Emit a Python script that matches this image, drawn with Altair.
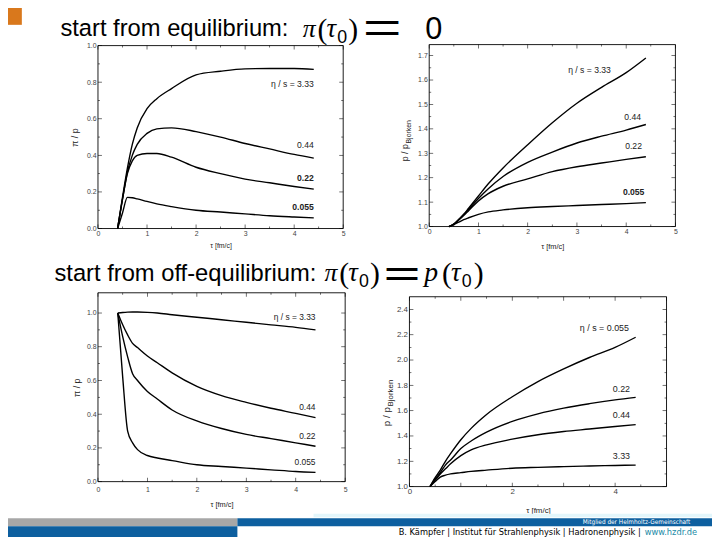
import altair as alt
import pandas as pd

SANS = "Liberation Sans"
SERIF = "Liberation Serif"
CJK = "Noto Sans CJK JP"
NARROW = "Liberation Sans Narrow, DejaVu Sans Condensed, Liberation Sans"
W, H = 720, 540

TAU = [0.4, 0.5, 0.6, 0.7, 0.8, 1.0, 1.2, 1.5, 2.0, 2.5, 3.0, 3.5, 4.0, 4.4]
ETA = ["3.33", "0.44", "0.22", "0.055"]

# top-left: pi/p, start from equilibrium
EQ_PI_333 = [0, 0.17, 0.33, 0.46, 0.55, 0.655, 0.71, 0.765, 0.84, 0.86, 0.873, 0.875, 0.875, 0.87]
EQ_PI_044 = [0, 0.16, 0.31, 0.40, 0.46, 0.52, 0.545, 0.55, 0.53, 0.50, 0.465, 0.435, 0.405, 0.385]
EQ_PI_022 = [0, 0.16, 0.30, 0.37, 0.40, 0.41, 0.41, 0.39, 0.335, 0.30, 0.27, 0.25, 0.23, 0.215]
EQ_PI_0055 = [0, 0.085, 0.17, 0.168, 0.162, 0.148, 0.135, 0.12, 0.10, 0.09, 0.08, 0.07, 0.063, 0.058]

# top-right: p/p_Bjorken, start from equilibrium
EQ_P_333 = [1.0, 1.01, 1.03, 1.05, 1.075, 1.125, 1.175, 1.24, 1.335, 1.425, 1.505, 1.57, 1.63, 1.69]
EQ_P_044 = [1.0, 1.01, 1.028, 1.048, 1.07, 1.115, 1.155, 1.205, 1.263, 1.305, 1.342, 1.37, 1.395, 1.418]
EQ_P_022 = [1.0, 1.01, 1.027, 1.045, 1.065, 1.105, 1.135, 1.165, 1.195, 1.225, 1.245, 1.26, 1.275, 1.286]
EQ_P_0055 = [1.0, 1.008, 1.018, 1.028, 1.036, 1.05, 1.06, 1.068, 1.077, 1.082, 1.086, 1.09, 1.094, 1.098]

# bottom-left: pi/p, start from off-equilibrium
OFF_PI_333 = [1.0, 1.003, 1.005, 1.006, 1.006, 1.004, 1.0, 0.99, 0.975, 0.96, 0.945, 0.93, 0.915, 0.9]
OFF_PI_044 = [1.0, 0.93, 0.87, 0.82, 0.795, 0.745, 0.705, 0.645, 0.565, 0.51, 0.47, 0.435, 0.405, 0.38]
OFF_PI_022 = [1.0, 0.86, 0.74, 0.64, 0.60, 0.535, 0.49, 0.425, 0.36, 0.315, 0.28, 0.255, 0.23, 0.21]
OFF_PI_0055 = [1.0, 0.62, 0.30, 0.23, 0.19, 0.155, 0.14, 0.125, 0.10, 0.09, 0.08, 0.07, 0.06, 0.055]

# bottom-right: p/p_Bjorken, start from off-equilibrium
OFF_P_0055 = [1.0, 1.07, 1.13, 1.20, 1.26, 1.37, 1.46, 1.57, 1.71, 1.83, 1.93, 2.02, 2.10, 2.18]
OFF_P_022 = [1.0, 1.06, 1.11, 1.17, 1.21, 1.30, 1.36, 1.43, 1.515, 1.575, 1.62, 1.655, 1.685, 1.705]
OFF_P_044 = [1.0, 1.05, 1.10, 1.14, 1.18, 1.245, 1.29, 1.33, 1.375, 1.41, 1.435, 1.455, 1.475, 1.49]
OFF_P_333 = [1.0, 1.04, 1.075, 1.09, 1.10, 1.11, 1.12, 1.13, 1.145, 1.152, 1.158, 1.163, 1.167, 1.17]

# curve labels: text, tau, value, bold
LAB1_TXT = ["η / s = 3.33", "0.44", "0.22", "0.055"]
LAB1_TAU = [4.4, 4.4, 4.4, 4.4]
LAB1_VAL = [0.79, 0.458, 0.277, 0.119]
LAB1_BOLD = [False, False, True, True]

LAB2_TXT = ["η / s = 3.33", "0.44", "0.22", "0.055"]
LAB2_TAU = [3.69, 4.3, 4.32, 4.37]
LAB2_VAL = [1.642, 1.449, 1.33, 1.142]
LAB2_BOLD = [False, False, False, True]

LAB3_TXT = ["η / s = 3.33", "0.44", "0.22", "0.055"]
LAB3_TAU = [4.4, 4.4, 4.4, 4.4]
LAB3_VAL = [0.975, 0.445, 0.272, 0.116]
LAB3_BOLD = [False, False, False, False]

LAB4_TXT = ["η / s = 0.055", "0.22", "0.44", "3.33"]
LAB4_TAU = [4.27, 4.29, 4.29, 4.29]
LAB4_VAL = [2.255, 1.773, 1.565, 1.24]
LAB4_BOLD = [False, False, False, False]

X_MAJOR = [0, 1, 2, 3, 4, 5]
X_MINOR = [0.5, 1.5, 2.5, 3.5, 4.5]
X4_LABELS = [0, 2, 4]
Y1_MAJOR = [0.0, 0.2, 0.4, 0.6, 0.8, 1.0]
Y1_MINOR = [0.1, 0.3, 0.5, 0.7, 0.9]
Y2_MAJOR = [1.0, 1.1, 1.2, 1.3, 1.4, 1.5, 1.6, 1.7]
Y2_MINOR = [1.05, 1.15, 1.25, 1.35, 1.45, 1.55, 1.65]
Y4_MAJOR = [1.0, 1.2, 1.4, 1.6, 1.8, 2.0, 2.2, 2.4]
Y4_MINOR = [1.1, 1.3, 1.5, 1.7, 1.9, 2.1, 2.3]

ONE = alt.Data(values=[{"a": 1}])


def txt(s, x, y, size, font=SANS, color="black", align="left", style="normal",
        weight="normal", angle=0, baseline="alphabetic"):
    return alt.Chart(ONE).mark_text(
        text=s, fontSize=size, font=font, color=color, align=align, baseline=baseline,
        fontStyle=style, fontWeight=weight, angle=angle,
    ).encode(x=alt.value(x), y=alt.value(y))


def box(x0, y0, x1, y1, color):
    return alt.Chart(ONE).mark_rect(color=color).encode(
        x=alt.value(x0), x2=alt.value(x1), y=alt.value(y0), y2=alt.value(y1))


def panel(names, series, labels, ydom, xr, yr, xmaj, xmin, ymaj, ymin, xlab, yfmt,
          tickfs, xlabpad, xtitlepad, xtitlefs, ytitle, ytitlepad, labfs):
    xs = alt.Scale(domain=[0, 5], range=xr, nice=False, zero=False)
    ys = alt.Scale(domain=ydom, range=[yr[1], yr[0]], nice=False, zero=False)
    xax = alt.Axis(orient="bottom", offset=yr[1] - H, values=xlab, format="d", grid=False,
                   ticks=False, domain=False, labelFont=SANS, labelFontSize=tickfs,
                   labelColor="#444", labelPadding=xlabpad, labelFlush=False, labelOverlap=False,
                   title="τ [fm/c]", titleFont=SANS, titleFontSize=xtitlefs,
                   titleFontWeight="normal", titleColor="#222", titlePadding=xtitlepad)
    yax = alt.Axis(orient="left", offset=-xr[0], values=ymaj, format=yfmt, grid=False,
                   ticks=False, domain=False, labelFont=SANS, labelFontSize=tickfs,
                   labelColor="#444", labelPadding=2, labelFlush=False, labelOverlap=False,
                   title=ytitle, titleFont=SANS, titleFontSize=9, titleFontWeight="normal",
                   titleColor="#222", titlePadding=ytitlepad)
    X = lambda f: alt.X(f, scale=xs, axis=xax)
    Y = lambda f: alt.Y(f, scale=ys, axis=yax)
    rows = []
    for name, vals in zip(names, series):
        for t, v in zip(TAU, vals):
            rows.append({"tau": t, "v": v, "eta": name})
    df = pd.DataFrame(rows)
    layers = [alt.Chart(df).mark_line(color="black", strokeWidth=1.4,
                                      interpolate="monotone").encode(
        x=X("tau:Q"), y=Y("v:Q"), detail="eta:N")]
    txts, taus, vals, bolds = labels
    for bold in (False, True):
        sel = [i for i in range(len(txts)) if bolds[i] == bold]
        if not sel:
            continue
        ldf = pd.DataFrame({"tau": [taus[i] for i in sel], "v": [vals[i] for i in sel],
                            "t": [txts[i] for i in sel]})
        layers.append(alt.Chart(ldf).mark_text(
            align="right", baseline="middle", font=SANS, fontSize=labfs, color="#222",
            fontWeight="bold" if bold else "normal").encode(
            x=X("tau:Q"), y=Y("v:Q"), text="t:N"))
    fdf = pd.DataFrame({"x0": [0], "x1": [5], "y0": [ydom[0]], "y1": [ydom[1]]})
    layers.append(alt.Chart(fdf).mark_rect(fill="transparent", stroke="black",
                                           strokeWidth=0.9).encode(
        x=X("x0:Q"), x2="x1", y=Y("y0:Q"), y2="y1"))
    for vals_, L in ((xmaj, 4), (xmin, 2)):
        for yv, off in ((ydom[0], -L / 2), (ydom[1], L / 2)):
            tdf = pd.DataFrame({"x": vals_, "y": [yv] * len(vals_)})
            layers.append(alt.Chart(tdf).mark_tick(orient="vertical", size=L, thickness=0.8,
                                                   color="black", yOffset=off).encode(
                x=X("x:Q"), y=Y("y:Q")))
    for vals_, L in ((ymaj, 4), (ymin, 2)):
        for xv, off in ((0, L / 2), (5, -L / 2)):
            tdf = pd.DataFrame({"x": [xv] * len(vals_), "y": vals_})
            layers.append(alt.Chart(tdf).mark_tick(orient="horizontal", size=L, thickness=0.8,
                                                   color="black", xOffset=off).encode(
                x=X("x:Q"), y=Y("y:Q")))
    return alt.layer(*layers)


p1 = panel(ETA, [EQ_PI_333, EQ_PI_044, EQ_PI_022, EQ_PI_0055],
           (LAB1_TXT, LAB1_TAU, LAB1_VAL, LAB1_BOLD), [0, 1.0], [99, 347], [43, 228],
           X_MAJOR, X_MINOR, Y1_MAJOR, Y1_MINOR, X_MAJOR, ".1f", 7, 1.5, 5, 7,
           "π / p", 7, 8.7)
p2 = panel(ETA, [EQ_P_333, EQ_P_044, EQ_P_022, EQ_P_0055],
           (LAB2_TXT, LAB2_TAU, LAB2_VAL, LAB2_BOLD), [1.0, 1.745], [434, 683], [42, 226],
           X_MAJOR, X_MINOR, Y2_MAJOR, Y2_MINOR, X_MAJOR, ".1f", 7, 1, 8, 7.5,
           None, 5, 8.7)
p3 = panel(ETA, [OFF_PI_333, OFF_PI_044, OFF_PI_022, OFF_PI_0055],
           (LAB3_TXT, LAB3_TAU, LAB3_VAL, LAB3_BOLD), [0, 1.12], [99, 349], [293, 484],
           X_MAJOR, X_MINOR, Y1_MAJOR, Y1_MINOR, X_MAJOR, ".1f", 7, 4, 8, 7.5,
           "π / p", 5, 8.5)
p4 = panel(ETA[::-1], [OFF_P_0055, OFF_P_022, OFF_P_044, OFF_P_333],
           (LAB4_TXT, LAB4_TAU, LAB4_VAL, LAB4_BOLD), [1.0, 2.5], [414, 674], [297, 489],
           X_MAJOR, X_MINOR, Y4_MAJOR, Y4_MINOR, X4_LABELS, ".1f",
           8, 1, 11, 8, None, 5, 9)

deco = [
    box(0, 0, 22, 22, "#d9781c"),
    box(317, 516.5, 720, 520, "#e3f6fb"),
    box(0, 521, 240, 529, "#a7a7a7"),
    box(240, 521, 720, 529, "#0d5f9f"),
    box(0, 529, 240, 540, "#0d5f9f"),
    txt("Mitglied der Helmholtz-Gemeinschaft", 698, 527.3, 6.5, NARROW, "white", "right"),
    txt("B. Kämpfer | Institut für Strahlenphysik | Hadronenphysik |", 648, 537.5, 9.3,
        NARROW, "black", "right"),
    txt("www.hzdr.de", 652, 537.5, 9.3, NARROW, "#1a8aa6", "left"),
    # headings
    txt("start from equilibrium:", 61, 33, 24),
    txt("start from off-equilibrium:", 55, 281, 24),
    # formula 1: pi(tau_0) = 0
    txt("π", 306, 34, 26, SERIF, style="italic"),
    txt("(", 321, 36, 30, SERIF),
    txt("τ", 330, 34, 27, SERIF, style="italic"),
    txt("0", 341, 40, 18, SANS),
    txt(")", 352, 36, 30, SERIF),
    txt("＝", 364, 42, 45, CJK),
    txt("0", 430, 36, 31, SANS),
    # formula 2: pi(tau_0) = p(tau_0)
    txt("π", 328, 281, 26, SERIF, style="italic"),
    txt("(", 343, 283, 30, SERIF),
    txt("τ", 352, 281, 27, SERIF, style="italic"),
    txt("0", 363, 287, 18, SANS),
    txt(")", 374, 283, 30, SERIF),
    txt("＝", 385, 290, 43, CJK),
    txt("p", 429, 281, 28, SERIF, style="italic"),
    txt("(", 447, 283, 30, SERIF),
    txt("τ", 456, 281, 27, SERIF, style="italic"),
    txt("0", 467, 287, 18, SANS),
    txt(")", 479, 283, 30, SERIF),
    # y titles of the right panels
    txt("p / p", 413, 160, 9, angle=270, color="#222"),
    txt("Bjorken", 415.5, 142, 7, angle=270, color="#222"),
    txt("p / p", 394, 428, 10, angle=270, color="#222"),
    txt("Bjorken", 397, 408, 8, angle=270, color="#222"),
]

chart = alt.layer(*deco, p1, p2, p3, p4).resolve_scale(
    x="independent", y="independent").resolve_axis(
    x="independent", y="independent").properties(
    width=W, height=H, background="white",
    autosize=alt.AutoSizeParams(type="none"),
    padding={"left": -8, "top": -8, "right": 0, "bottom": 0},
).configure_view(stroke=None)

chart.save("out.html", embed_options={"renderer": "svg", "actions": False})
